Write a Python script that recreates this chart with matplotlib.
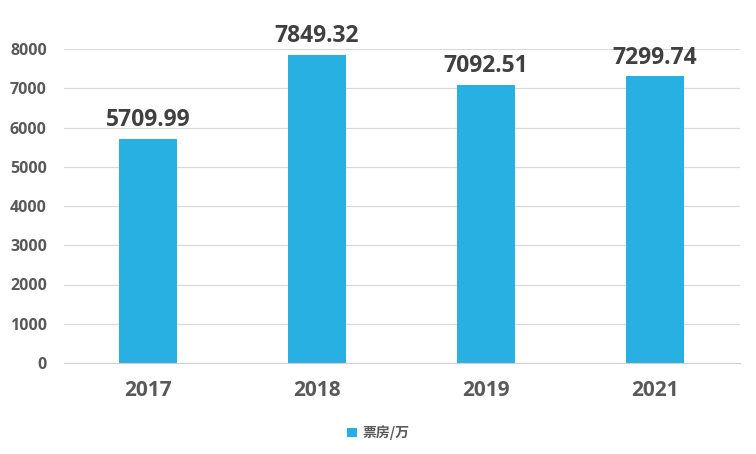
import matplotlib
matplotlib.use("Agg")
import matplotlib.pyplot as plt

years = ["2017", "2018", "2019", "2021"]
box_office = [5709.99, 7849.32, 7092.51, 7299.74]
yticks = [0, 1000, 2000, 3000, 4000, 5000, 6000, 7000, 8000]

BAR = "#29B0E2"
TXT = "#595959"

plt.rcParams["font.family"] = ["Open Sans", "Noto Sans CJK SC", "DejaVu Sans"]

fig = plt.figure(figsize=(7.56, 4.54), dpi=100)
ax = fig.add_axes([63.5 / 756, 1 - 363 / 454, 676 / 756, 314 / 454])

x = range(len(years))
bars = ax.bar(x, box_office, width=0.34, color=BAR, zorder=2, label="票房/万")
for xi, v in zip(x, box_office):
    ax.text(xi, v + 170, f"{v:.2f}", ha="center", va="bottom",
            fontsize=16.5, fontweight="bold", color="#404040")

ax.set_xlim(-0.5, len(years) - 0.5)
ax.set_ylim(0, 8000)
ax.set_yticks(yticks)
ax.set_xticks(list(x))
ax.set_xticklabels(years)
ax.grid(axis="y", color="#D9D9D9", lw=0.9, zorder=0)
for s in ["top", "right", "left"]:
    ax.spines[s].set_visible(False)
ax.spines["bottom"].set_color("#D0D0D0")
ax.tick_params(axis="y", length=0, pad=12, labelsize=11.5, labelcolor=TXT)
ax.tick_params(axis="x", length=0, pad=12, labelsize=15, labelcolor=TXT)
for lab in ax.get_yticklabels() + ax.get_xticklabels():
    lab.set_fontweight("bold")

leg = fig.legend(loc="center", bbox_to_anchor=(0.5, 1 - 433 / 454), frameon=False,
                 handlelength=0.7, handleheight=0.7, handletextpad=0.4,
                 prop={"family": ["Noto Sans CJK SC", "DejaVu Sans"], "size": 10, "weight": "bold"})
for t in leg.get_texts():
    t.set_color(TXT)

fig.savefig("out.png", dpi=100)
